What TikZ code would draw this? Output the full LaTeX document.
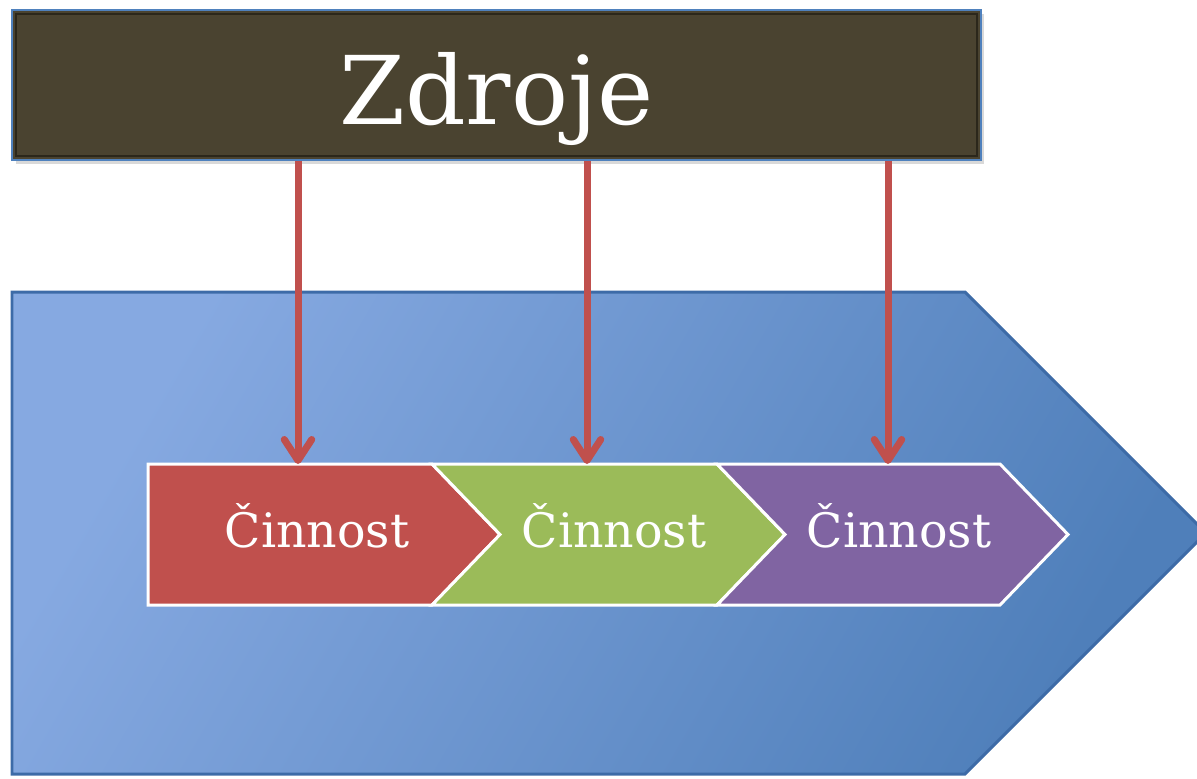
\documentclass[tikz,border=0pt]{standalone}
\usepackage{fontspec}
\setmainfont{DejaVu Serif}
\usepackage{xcolor}
\usepackage{tikz}
\usetikzlibrary{arrows.meta,shadows}

\definecolor{boxolive}{HTML}{4A4330}
\definecolor{boxdark}{HTML}{2B271B}
\definecolor{edgeblue}{HTML}{4F81BD}
\definecolor{bandlight}{HTML}{86A9E1}
\definecolor{banddark}{HTML}{4F7FBA}
\definecolor{bandedge}{HTML}{3D6BA7}
\definecolor{resred}{HTML}{C0504D}
\definecolor{actred}{HTML}{C0504D}
\definecolor{actgreen}{HTML}{9BBB59}
\definecolor{actviolet}{HTML}{8064A2}

\begin{document}
\begin{tikzpicture}[x=0.02cm,y=-0.02cm,
  res/.style={draw=resred,line width=0.14cm,-{Straight Barb[length=0.42cm,width=0.55cm,round]}},
  chev/.style={draw=white,line width=0.06cm,line join=miter},
  lab/.style={text=white,font=\fontsize{27}{30}\selectfont,anchor=base}]
\useasboundingbox (0,0) rectangle (1197,778);

% process band
\shade[left color=bandlight,right color=banddark,shading angle=60,draw=bandedge,line width=0.06cm]
  (12,292) -- (965,292) -- (1206,533) -- (965,774) -- (12,774) -- cycle;

% activities
\fill[actred,chev] (148,464) -- (432,464) -- (500,534.5) -- (432,605) -- (148,605) -- cycle;
\fill[actgreen,chev] (432,464) -- (717,464) -- (785,534.5) -- (717,605) -- (432,605) -- (500,534.5) -- cycle;
\fill[actviolet,chev] (717,464) -- (1000,464) -- (1068,534.5) -- (1000,605) -- (717,605) -- (785,534.5) -- cycle;
\node[lab] (act1) at (317,547) {Činnost};
\node[lab] (act2) at (614,547) {Činnost};
\node[lab] (act3) at (899,547) {Činnost};
\coordinate (in1) at (298,464);
\coordinate (in2) at (587,464);
\coordinate (in3) at (888,464);

% resources
\node[fill=boxolive,draw=edgeblue,line width=0.04cm,minimum width=19.38cm,minimum height=3cm,
  text=white,font=\fontsize{54}{58}\selectfont,text height=1.6cm,text depth=0pt,
  drop shadow={opacity=0.3,shadow xshift=2pt,shadow yshift=-2pt}] (zdroje) at (496.5,85) {Zdroje};
\draw[boxdark,line width=0.05cm] ([shift={(5,5)}]zdroje.north west) rectangle ([shift={(-5,-5)}]zdroje.south east);

\foreach \i in {1,2,3}
  \draw[res] (zdroje.south -| in\i) -- (in\i);
\end{tikzpicture}
\end{document}
